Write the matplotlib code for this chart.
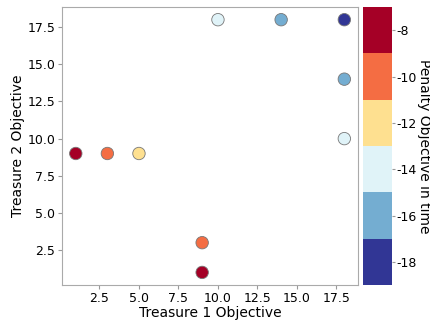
import matplotlib.pyplot as plt
import matplotlib as mpl

# ======================================
treasure1 = [1, 3, 5, 9, 9, 10, 14, 18, 18, 18]
treasure2 = [9, 9, 9, 3, 1, 18, 18, 18, 14, 10]
penalty = [-8, -10, -12, -10, -8, -14, -16, -19, -16, -14]
cbar_ticks = [-8, -10, -12, -14, -16, -18]
# ======================================

plt.rcParams['axes.unicode_minus'] = False
cmap = plt.get_cmap('RdYlBu_r', 6)

fig = plt.figure(figsize=(4.3, 3.21), dpi=100)
ax = fig.add_axes([0.145, 0.112, 0.687, 0.866])
cax = fig.add_axes([0.845, 0.112, 0.067, 0.866])

sc = ax.scatter(treasure1, treasure2, c=penalty, cmap=cmap, vmin=-19, vmax=-7,
                s=80, edgecolors='#777777', linewidths=0.6, zorder=3)
ax.set_xlabel("Treasure 1 Objective", fontsize=10, labelpad=1)
ax.set_ylabel("Treasure 2 Objective", fontsize=10, labelpad=2)
ax.set_xticks([2.5, 5.0, 7.5, 10.0, 12.5, 15.0, 17.5])
ax.set_yticks([2.5, 5.0, 7.5, 10.0, 12.5, 15.0, 17.5])
ax.tick_params(labelsize=9, color='#999999', length=3, pad=2)
for sp in ax.spines.values():
    sp.set_color('#aaaaaa')

cb = fig.colorbar(sc, cax=cax, ticks=cbar_ticks)
cb.outline.set_visible(False)
cb.ax.tick_params(labelsize=9, color='#999999', length=2, pad=1)
cb.set_label("Penalty Objective in time", rotation=270, fontsize=10,
             labelpad=0, va='bottom')

plt.savefig("out.png")
